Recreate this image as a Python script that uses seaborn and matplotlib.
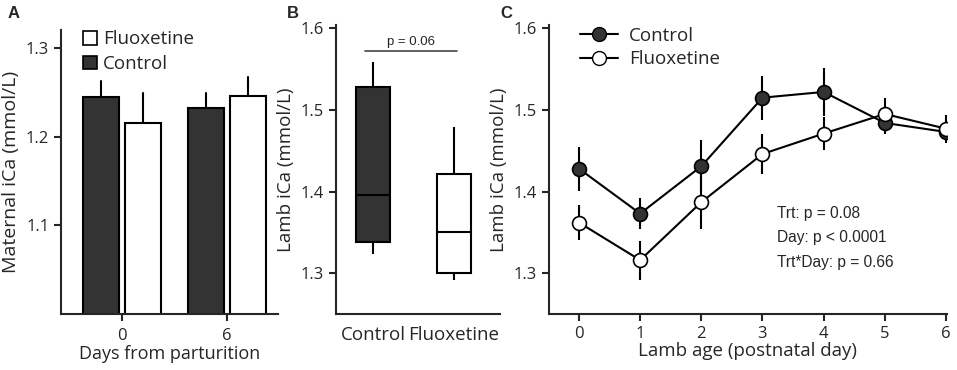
import pandas as pd
import seaborn as sns
import matplotlib.pyplot as plt
import numpy as np
from matplotlib.lines import Line2D
from matplotlib.patches import Patch

# panel A - maternal iCa, mean + upper SEM
mat_days = ['0', '0', '6', '6']
mat_trt = ['Control', 'Fluoxetine', 'Control', 'Fluoxetine']
mat_mean = [1.245, 1.216, 1.233, 1.246]
mat_sem = [0.018, 0.034, 0.017, 0.022]

# panel B - lamb iCa box summary (low whisker, q1, median, q3, high whisker)
box_ctrl = [1.323, 1.338, 1.396, 1.528, 1.559]
box_flx = [1.292, 1.300, 1.350, 1.421, 1.479]

# panel C - lamb iCa by postnatal day
days = [0, 1, 2, 3, 4, 5, 6]
ctrl_mean = [1.428, 1.373, 1.431, 1.515, 1.522, 1.484, 1.473]
ctrl_sem = [0.027, 0.019, 0.032, 0.027, 0.029, 0.014, 0.008]
flx_mean = [1.362, 1.316, 1.387, 1.446, 1.471, 1.495, 1.477]
flx_sem = [0.021, 0.024, 0.033, 0.024, 0.020, 0.019, 0.017]
stats_txt = ['Trt: p = 0.08', 'Day: p < 0.0001', 'Trt*Day: p = 0.66']

dark = '#333333'

sns.set_style('ticks')
plt.rcParams['font.family'] = ['Open Sans', 'DejaVu Sans']
plt.rcParams['axes.linewidth'] = 1.5
plt.rcParams['xtick.major.width'] = 1.5
plt.rcParams['ytick.major.width'] = 1.5
plt.rcParams['xtick.major.size'] = 5
plt.rcParams['ytick.major.size'] = 5
plt.rcParams['xtick.labelsize'] = 12
plt.rcParams['ytick.labelsize'] = 12
plt.rcParams['axes.labelsize'] = 13.5

fig = plt.figure(figsize=(9.57, 3.7), dpi=100)
W, H = 957, 370


def add_ax(l, r, t, b):
    return fig.add_axes([l / W, (H - b) / H, (r - l) / W, (b - t) / H])


# ---------- A ----------
axA = add_ax(61, 278, 30, 314)
dfA = pd.DataFrame({'day': mat_days, 'trt': mat_trt, 'ica': mat_mean})
sns.barplot(data=dfA, x='day', y='ica', hue='trt', hue_order=['Control', 'Fluoxetine'],
            palette={'Control': dark, 'Fluoxetine': 'white'}, edgecolor='black',
            linewidth=1.5, gap=0.15, errorbar=None, legend=False, ax=axA)
for p in axA.patches:
    if p.get_height() == 0:
        continue
    x = p.get_x() + p.get_width() / 2
    top = p.get_y() + p.get_height()
    k = [i for i, m in enumerate(mat_mean) if abs(m - top) < 1e-9][0]
    axA.plot([x, x], [top, top + mat_sem[k]], color='black', lw=1.5, zorder=1)
axA.set_ylim(1.0, 1.3206)
axA.set_yticks([1.1, 1.2, 1.3])
axA.set_xlim(-0.581, 1.486)
axA.set_xlabel('Days from parturition', labelpad=1, fontsize=13)
axA.set_ylabel('Maternal iCa (mmol/L)', fontsize=14)
axA.tick_params(axis='x', pad=5)
handles = [Patch(facecolor='white', edgecolor='black', lw=1.2, label='Fluoxetine'),
           Patch(facecolor=dark, edgecolor='black', lw=1.2, label='Control')]
axA.legend(handles=handles, loc='upper left', bbox_to_anchor=(0.065, 1.025), frameon=False,
           fontsize=13.5, handlelength=0.75, handleheight=0.75, handletextpad=0.35, labelspacing=0.35,
           borderaxespad=0)
sns.despine(ax=axA)

# ---------- B ----------
axB = add_ax(336, 500, 25, 314)
dfB = pd.DataFrame({'trt': ['Control'] * 5 + ['Fluoxetine'] * 5, 'ica': box_ctrl + box_flx})
sns.boxplot(data=dfB, x='trt', y='ica', hue='trt', palette={'Control': dark, 'Fluoxetine': 'white'},
            width=0.43, whis=3, linewidth=1.5, linecolor='black', showfliers=False, legend=False,
            showcaps=False, ax=axB)
axB.set_ylim(1.25, 1.604)
axB.set_yticks([1.3, 1.4, 1.5, 1.6])
axB.set_xlim(-0.457, 1.568)
axB.set_xlabel('')
axB.set_ylabel('Lamb iCa (mmol/L)')
axB.tick_params(axis='x', length=0, pad=9, labelsize=13.5)
axB.plot([-0.1, 1.035], [1.572, 1.572], color='#444444', lw=1.2)
axB.text(0.47, 1.576, 'p = 0.06', ha='center', va='bottom', fontsize=9.5,
         family=['Liberation Sans', 'DejaVu Sans'])
sns.despine(ax=axB)

# ---------- C ----------
axC = add_ax(549, 947, 25, 314)
axC.vlines(days, np.array(ctrl_mean) - ctrl_sem, np.array(ctrl_mean) + ctrl_sem, color='black', lw=1.5, zorder=1)
axC.vlines(days, np.array(flx_mean) - flx_sem, np.array(flx_mean) + flx_sem, color='black', lw=1.5, zorder=1)
sns.lineplot(x=days, y=ctrl_mean, color='black', lw=1.5, marker='o', markersize=10,
             markerfacecolor=dark, markeredgecolor='black', markeredgewidth=1.2, ax=axC, zorder=3)
sns.lineplot(x=days, y=flx_mean, color='black', lw=1.5, marker='o', markersize=10,
             markerfacecolor='white', markeredgecolor='black', markeredgewidth=1.2, ax=axC, zorder=3)
axC.set_ylim(1.25, 1.604)
axC.set_yticks([1.3, 1.4, 1.5, 1.6])
axC.set_xlim(-0.49, 6.016)
axC.set_xticks(days)
axC.set_xlabel('Lamb age (postnatal day)', labelpad=0)
axC.set_ylabel('Lamb iCa (mmol/L)')
axC.tick_params(axis='x', pad=4)
lh = [Line2D([], [], color='black', lw=1.5, marker='o', markersize=10, markerfacecolor=dark,
             markeredgecolor='black', label='Control'),
      Line2D([], [], color='black', lw=1.5, marker='o', markersize=10, markerfacecolor='white',
             markeredgecolor='black', label='Fluoxetine')]
axC.legend(handles=lh, loc='upper left', bbox_to_anchor=(0.06, 1.02), frameon=False, fontsize=13.5,
           handlelength=2.0, handletextpad=0.6, labelspacing=0.3, borderaxespad=0)
for i, s in enumerate(stats_txt):
    axC.text(0.574, 0.349 - i * 0.085, s, transform=axC.transAxes, fontsize=11.2, va='center',
             family=['Liberation Sans', 'DejaVu Sans'])
sns.despine(ax=axC)

for lbl, x in [('A', 8), ('B', 287), ('C', 500)]:
    fig.text(x / W, 1 - 14 / H, lbl, fontsize=12, fontweight='bold', va='center',
             family=['Liberation Sans', 'DejaVu Sans'])

fig.savefig('out.png', dpi=100)
